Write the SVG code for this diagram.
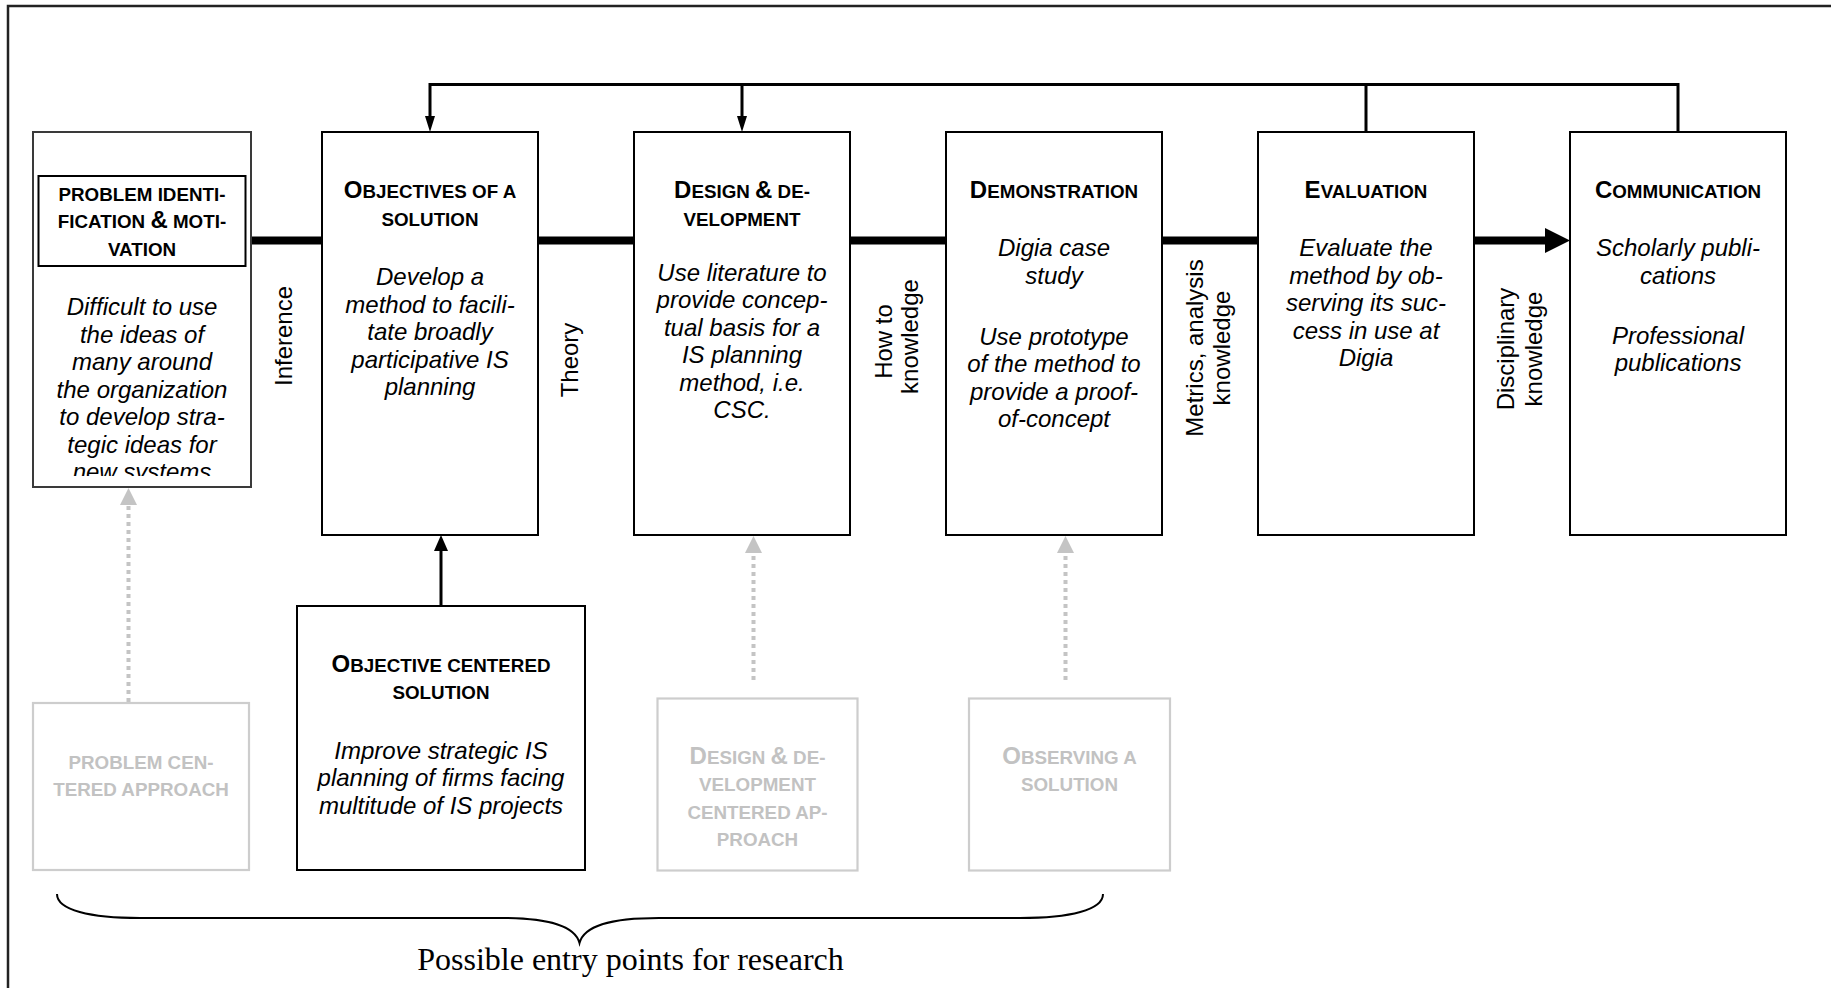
<svg xmlns="http://www.w3.org/2000/svg" width="1831" height="988" viewBox="0 0 1831 988">
<style>
.box{fill:#fff;stroke:#000;stroke-width:2}
.gbox{fill:#fff;stroke:#cdcdcd;stroke-width:2.2}
.t{font-family:"Liberation Sans",Arial,sans-serif;font-weight:bold;font-size:18.8px;text-anchor:middle;fill:#000}
.gt{fill:#c2c2c2}
.big{font-size:24px}
.b{font-family:"Liberation Sans",Arial,sans-serif;font-style:italic;font-size:24px;text-anchor:middle;fill:#000}
.lab{font-family:"Liberation Sans",Arial,sans-serif;font-size:24px;text-anchor:middle;fill:#000}
.thick{stroke:#000;stroke-width:8;fill:none}
.top{stroke:#000;stroke-width:3;fill:none}
.dot{stroke:#c4c4c4;stroke-width:4;stroke-dasharray:4 4;fill:none}
</style>
<defs>
<clipPath id="pclip"><rect x="33" y="133" width="218" height="343"/></clipPath>
</defs>
<rect width="1831" height="988" fill="#fff"/>
<path d="M8,988 V6 H1831" fill="none" stroke="#222" stroke-width="2.5"/>

<g id="connectors">
<path class="top" d="M430,116 V84.5 H1678 V132 M742,84.5 V116 M1366,84.5 V132"/>
<path d="M425,116 L435,116 L430,132 Z M737,116 L747,116 L742,132 Z" fill="#000"/>
<path class="thick" d="M251,240.5 H322 M538,240.5 H634 M850,240.5 H946 M1162,240.5 H1258 M1474,240.5 H1546"/>
<path d="M1545,228 L1570,240.5 L1545,253 Z" fill="#000"/>
<path d="M441,606 V550" stroke="#000" stroke-width="3" fill="none"/>
<path d="M434,551 L448,551 L441,535 Z" fill="#000"/>
<path class="dot" d="M128.5,702 V504 M753.5,680 V552 M1065.5,680 V552"/>
<path d="M120,505 L137,505 L128.5,488 Z M745,553 L762,553 L753.5,536 Z M1057,553 L1074,553 L1065.5,536 Z" fill="#c4c4c4"/>
<g class="lab">
<text transform="translate(292,336) rotate(-90)">Inference</text>
<text transform="translate(578,360) rotate(-90)">Theory</text>
<text transform="translate(892,341.5) rotate(-90)">How to</text>
<text transform="translate(918,336.5) rotate(-90)">knowledge</text>
<text transform="translate(1203,348) rotate(-90)">Metrics, analysis</text>
<text transform="translate(1230,348) rotate(-90)">knowledge</text>
<text transform="translate(1514,349) rotate(-90)">Disciplinary</text>
<text transform="translate(1542,349) rotate(-90)">knowledge</text>
</g>
</g>

<g id="problem">
<rect x="33" y="132" width="218" height="355" fill="#fff" stroke="#3a3a3a" stroke-width="2"/>
<rect class="box" x="38.5" y="176" width="207" height="90"/>
<text class="t" x="142" y="200.5">PROBLEM IDENTI-</text>
<text class="t" x="142" y="228">FICATION <tspan class="big">&amp;</tspan> MOTI-</text>
<text class="t" x="142" y="255.5">VATION</text>
<g clip-path="url(#pclip)" class="b">
<text x="142" y="315">Difficult to use</text>
<text x="142" y="342.5">the ideas of</text>
<text x="142" y="370">many around</text>
<text x="142" y="397.5">the organization</text>
<text x="142" y="425">to develop stra-</text>
<text x="142" y="452.5">tegic ideas for</text>
<text x="142" y="480">new systems</text>
</g>
</g>

<g id="objectives">
<rect class="box" x="322" y="132" width="216" height="403"/>
<text class="t" x="430" y="198"><tspan class="big">O</tspan>BJECTIVES OF A</text>
<text class="t" x="430" y="226">SOLUTION</text>
<g class="b">
<text x="430" y="285">Develop a</text>
<text x="430" y="312.5">method to facili-</text>
<text x="430" y="340">tate broadly</text>
<text x="430" y="367.5">participative IS</text>
<text x="430" y="395">planning</text>
</g>
</g>

<g id="design">
<rect class="box" x="634" y="132" width="216" height="403"/>
<text class="t" x="742" y="198"><tspan class="big">D</tspan>ESIGN <tspan class="big">&amp;</tspan> DE-</text>
<text class="t" x="742" y="226">VELOPMENT</text>
<g class="b">
<text x="742" y="280.5">Use literature to</text>
<text x="742" y="308">provide concep-</text>
<text x="742" y="335.5">tual basis for a</text>
<text x="742" y="363">IS planning</text>
<text x="742" y="390.5">method, i.e.</text>
<text x="742" y="418">CSC.</text>
</g>
</g>

<g id="demonstration">
<rect class="box" x="946" y="132" width="216" height="403"/>
<text class="t" x="1054" y="198"><tspan class="big">D</tspan>EMONSTRATION</text>
<g class="b">
<text x="1054" y="256">Digia case</text>
<text x="1054" y="283.5">study</text>
<text x="1054" y="344.5">Use prototype</text>
<text x="1054" y="372">of the method to</text>
<text x="1054" y="399.5">provide a proof-</text>
<text x="1054" y="427">of-concept</text>
</g>
</g>

<g id="evaluation">
<rect class="box" x="1258" y="132" width="216" height="403"/>
<text class="t" x="1366" y="198"><tspan class="big">E</tspan>VALUATION</text>
<g class="b">
<text x="1366" y="256">Evaluate the</text>
<text x="1366" y="283.5">method by ob-</text>
<text x="1366" y="311">serving its suc-</text>
<text x="1366" y="338.5">cess in use at</text>
<text x="1366" y="366">Digia</text>
</g>
</g>

<g id="communication">
<rect class="box" x="1570" y="132" width="216" height="403"/>
<text class="t" x="1678" y="198"><tspan class="big">C</tspan>OMMUNICATION</text>
<g class="b">
<text x="1678" y="256">Scholarly publi-</text>
<text x="1678" y="283.5">cations</text>
<text x="1678" y="343.5">Professional</text>
<text x="1678" y="371">publications</text>
</g>
</g>

<g id="problem-centered">
<rect class="gbox" x="33" y="703" width="216" height="167"/>
<text class="t gt" x="141" y="768.5">PROBLEM CEN-</text>
<text class="t gt" x="141" y="796">TERED APPROACH</text>
</g>

<g id="objective-centered">
<rect class="box" x="297" y="606" width="288" height="264"/>
<text class="t" x="441" y="671.5"><tspan class="big">O</tspan>BJECTIVE CENTERED</text>
<text class="t" x="441" y="699">SOLUTION</text>
<g class="b">
<text x="441" y="758.5">Improve strategic IS</text>
<text x="441" y="786">planning of firms facing</text>
<text x="441" y="813.5">multitude of IS projects</text>
</g>
</g>

<g id="design-centered">
<rect class="gbox" x="657.5" y="698.5" width="200" height="172"/>
<text class="t gt" x="757.5" y="763.5"><tspan class="big">D</tspan>ESIGN <tspan class="big">&amp;</tspan> DE-</text>
<text class="t gt" x="757.5" y="791">VELOPMENT</text>
<text class="t gt" x="757.5" y="818.5">CENTERED AP-</text>
<text class="t gt" x="757.5" y="846">PROACH</text>
</g>

<g id="observing">
<rect class="gbox" x="969" y="698.5" width="201" height="172"/>
<text class="t gt" x="1069.5" y="763.5"><tspan class="big">O</tspan>BSERVING A</text>
<text class="t gt" x="1069.5" y="791">SOLUTION</text>
</g>

<g id="entry-points">
<path d="M57,894 C57,910 90,918 140,918 L500,918 C550,918 575,926 579.5,943 C584,926 609,918 659,918 L1020,918 C1070,918 1103,910 1103,894" fill="none" stroke="#000" stroke-width="2"/>
<text x="630.5" y="970" font-family="'Liberation Serif','Times New Roman',serif" font-size="32" text-anchor="middle" fill="#000">Possible entry points for research</text>
</g>
</svg>
